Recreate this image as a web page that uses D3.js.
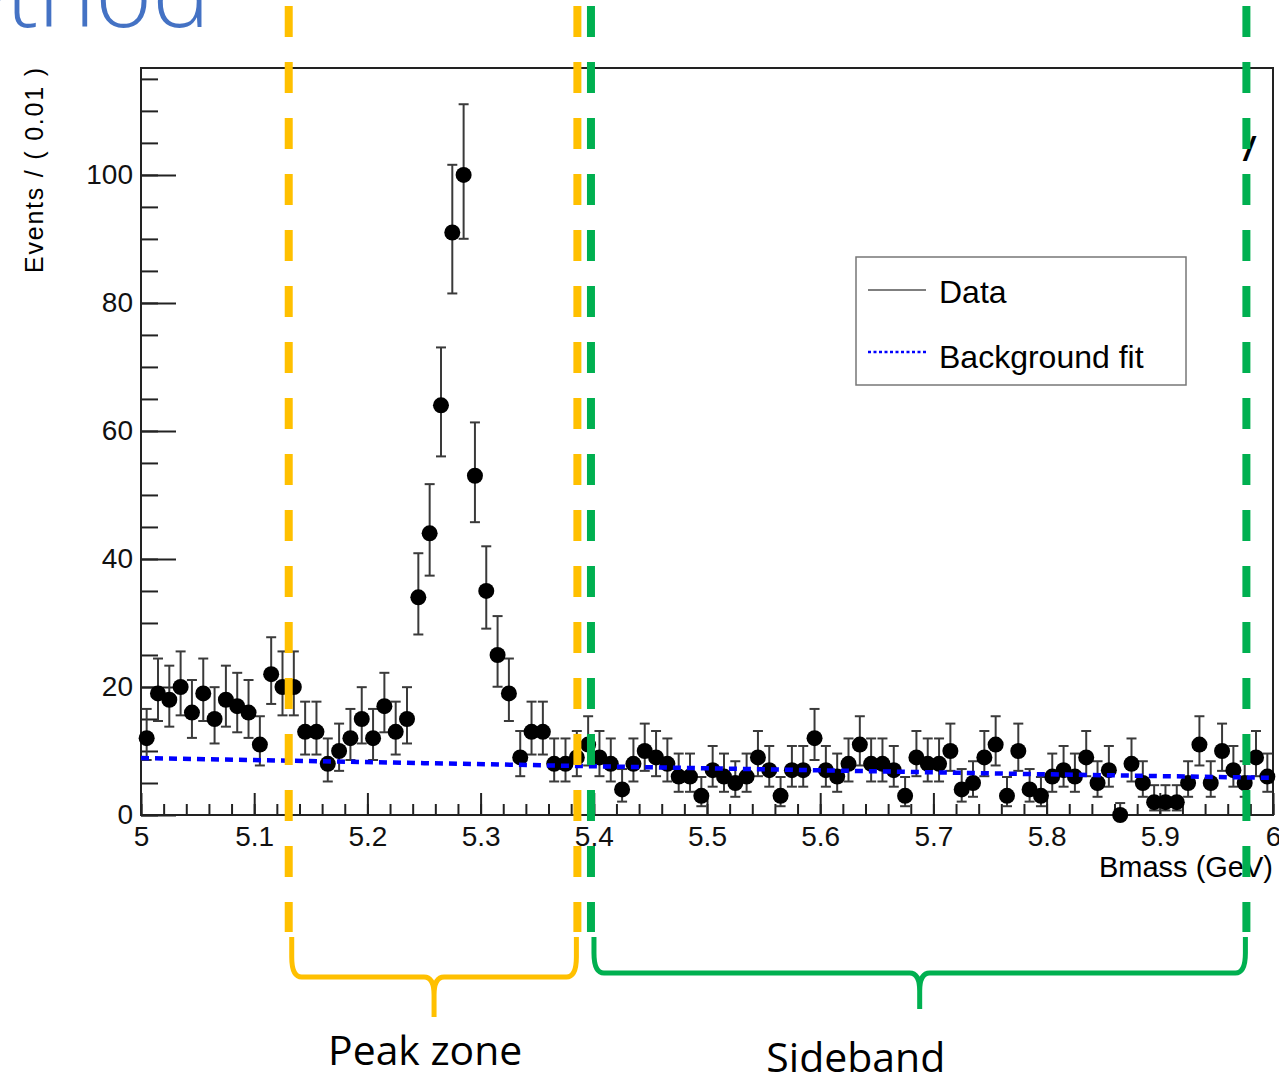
<!DOCTYPE html>
<html>
<head>
<meta charset="utf-8">
<script src="https://cdn.jsdelivr.net/npm/d3@7"></script>
<style>
  body { margin: 0; background: #fff; }
  svg { display: block; }
</style>
</head>
<body>
<div id="chart"></div>
<script>
////////////////////////////////////////////////////////////////////////
// Data: B mass histogram, 100 bins of 0.01 GeV

let binStart = 5.0;
let binWidth = 0.01;
let counts = [
  12, 19, 18, 20, 16, 19, 15, 18, 17, 16,
  11, 22, 20, 20, 13, 13,  8, 10, 12, 15,
  12, 17, 13, 15, 34, 44, 64, 91, 100, 53,
  35, 25, 19,  9, 13, 13,  8,  8,  9, 11,
   9,  8,  4,  8, 10,  9,  8,  6,  6,  3,
   7,  6,  5,  6,  9,  7,  3,  7,  7, 12,
   7,  6,  8, 11,  8,  8,  7,  3,  9,  8,
   8, 10,  4,  5,  9, 11,  3, 10,  4,  3,
   6,  7,  6,  9,  5,  7,  0,  8,  5,  2,
   2,  2,  5, 11,  5, 10,  7,  5,  9,  6
];

// background fit curve, sampled at a few masses
let bkgMass  = [5.0, 5.25, 5.5, 5.75, 6.0];
let bkgValue = [8.9, 8.1, 7.3, 6.5, 5.8];

// axis ticks
let xMajorTicks = [5.0, 5.1, 5.2, 5.3, 5.4, 5.5, 5.6, 5.7, 5.8, 5.9, 6.0];
let xTickLabels = ["5", "5.1", "5.2", "5.3", "5.4", "5.5", "5.6", "5.7", "5.8", "5.9", "6"];
let yMajorTicks = [0, 20, 40, 60, 80, 100];

// annotated mass windows (GeV) and where their captions sit
let peakZone = [5.1305, 5.3855];
let sideband = [5.3975, 5.9765];
let zoneLabels = ["Peak zone", "Sideband"];
let zoneLabelMass = [5.251, 5.6315];
let legendLabels = ["Data", "Background fit"];

////////////////////////////////////////////////////////////////////////
// Setup

let width = 1279;
let height = 1075;
let plotLeft = 141, plotRight = 1273, plotTop = 68, plotBottom = 815;

let svg = d3.select("#chart")
  .append("svg")
  .attr("width", width).attr("height", height);

let xScale = d3.scaleLinear().domain([5, 6]).range([plotLeft, plotRight]);
let yScale = d3.scaleLinear().domain([0, 116.7]).range([plotBottom, plotTop]);

let rootFont = "'Liberation Sans', Arial, Helvetica, sans-serif";
let slideFont = "'Open Sans', 'Noto Sans', sans-serif";

// title fragment from the slide
svg.append("text")
  .attr("x", 210).attr("y", 27)
  .attr("text-anchor", "end")
  .attr("font-family", slideFont)
  .attr("font-weight", 300)
  .attr("font-size", 97)
  .attr("fill", "#4472C4")
  .text("Method");

////////////////////////////////////////////////////////////////////////
// Axes (ROOT style, ticks inside the frame)

let yMinor = d3.range(0, 116, 5);
svg.append("g")
  .attr("transform", "translate(" + plotLeft + ",0)")
  .call(d3.axisLeft(yScale).tickValues(yMinor).tickSize(-17).tickFormat(""))
  .call(g => g.select(".domain").remove());

svg.append("g")
  .attr("transform", "translate(" + plotLeft + ",0)")
  .call(d3.axisLeft(yScale).tickValues(yMajorTicks).tickSize(-35).tickPadding(8))
  .call(g => g.select(".domain").remove())
  .call(g => g.selectAll("text")
    .attr("font-family", rootFont).attr("font-size", 28).attr("fill", "#111"));

let xMinor = d3.range(0, 51).map(i => 5 + i * 0.02);
svg.append("g")
  .attr("transform", "translate(0," + plotBottom + ")")
  .call(d3.axisBottom(xScale).tickValues(xMinor).tickSize(-11).tickFormat(""))
  .call(g => g.select(".domain").remove());

svg.append("g")
  .attr("transform", "translate(0," + plotBottom + ")")
  .call(d3.axisBottom(xScale).tickValues(xMajorTicks).tickSize(-22).tickPadding(11)
    .tickFormat((d, i) => xTickLabels[i]))
  .call(g => g.select(".domain").remove())
  .call(g => g.selectAll("text")
    .attr("font-family", rootFont).attr("font-size", 28).attr("fill", "#111"));

svg.selectAll(".tick line").attr("stroke", "#222").attr("stroke-width", 2);

// frame
svg.append("rect")
  .attr("x", plotLeft).attr("y", plotTop)
  .attr("width", plotRight - plotLeft).attr("height", plotBottom - plotTop)
  .attr("fill", "none").attr("stroke", "#222").attr("stroke-width", 2);

// axis titles
svg.append("text")
  .attr("transform", "translate(43," + plotTop + ") rotate(-90)")
  .attr("text-anchor", "end")
  .attr("font-family", rootFont).attr("font-size", 25)
  .attr("textLength", 205).attr("lengthAdjust", "spacing")
  .text("Events / ( 0.01 )");

svg.append("text")
  .attr("x", plotRight).attr("y", 877)
  .attr("text-anchor", "end")
  .attr("font-family", rootFont).attr("font-size", 29)
  .text("Bmass (GeV)");

// leftover glyph of a label hidden behind the slide
svg.append("text")
  .attr("x", 1244).attr("y", 160)
  .attr("font-family", rootFont).attr("font-size", 34)
  .attr("font-style", "italic").attr("font-weight", "bold")
  .text("/");

////////////////////////////////////////////////////////////////////////
// Data points with Poisson error bars

let bins = counts.map((n, i) => ({ x: binStart + (i + 0.5) * binWidth, n: n }));

function poissonLow(n) {
  if (n === 0) return 0;
  let a = 1 - 1 / (9 * n) - 1 / (3 * Math.sqrt(n));
  return n * a * a * a;
}
function poissonHigh(n) {
  return n + 1 + Math.sqrt(n + 0.75);
}

let dataG = svg.append("g");
let barColor = "#3a3a3a";
let markerR = 8;

bins.forEach(function(d) {
  let cx = xScale(d.x);
  let cy = yScale(d.n);
  let yLo = yScale(poissonLow(d.n));
  let yHi = yScale(poissonHigh(d.n));
  dataG.append("line")
    .attr("x1", cx).attr("x2", cx).attr("y1", yLo).attr("y2", yHi)
    .attr("stroke", barColor).attr("stroke-width", 2);
  if (cy - yHi > markerR) {
    dataG.append("line")
      .attr("x1", cx - 5).attr("x2", cx + 5).attr("y1", yHi).attr("y2", yHi)
      .attr("stroke", barColor).attr("stroke-width", 2);
  }
  if (yLo - cy > markerR) {
    dataG.append("line")
      .attr("x1", cx - 5).attr("x2", cx + 5).attr("y1", yLo).attr("y2", yLo)
      .attr("stroke", barColor).attr("stroke-width", 2);
  }
});

dataG.selectAll("circle")
  .data(bins)
  .enter()
  .append("circle")
  .attr("cx", d => xScale(d.x))
  .attr("cy", d => yScale(d.n))
  .attr("r", markerR)
  .attr("fill", "#000");

// background fit
let bkg = bkgMass.map((m, i) => [m, bkgValue[i]]);
svg.append("path")
  .datum(bkg)
  .attr("d", d3.line().x(d => xScale(d[0])).y(d => yScale(d[1])))
  .attr("fill", "none")
  .attr("stroke", "#0000ff")
  .attr("stroke-width", 4.5)
  .attr("stroke-dasharray", "8,6");

////////////////////////////////////////////////////////////////////////
// Legend

let legend = svg.append("g");
legend.append("rect")
  .attr("x", 856).attr("y", 257).attr("width", 330).attr("height", 128)
  .attr("fill", "#fff").attr("stroke", "#777").attr("stroke-width", 1.5);
legend.append("line")
  .attr("x1", 868).attr("x2", 926).attr("y1", 290).attr("y2", 290)
  .attr("stroke", "#555").attr("stroke-width", 1.3);
legend.append("line")
  .attr("x1", 868).attr("x2", 926).attr("y1", 352).attr("y2", 352)
  .attr("stroke", "#0000ff").attr("stroke-width", 2.5)
  .attr("stroke-dasharray", "3,2.5");
legend.selectAll("text.leg")
  .data(legendLabels)
  .enter()
  .append("text")
  .attr("class", "leg")
  .attr("x", 939)
  .attr("y", (d, i) => 303 + i * 65)
  .attr("font-family", rootFont).attr("font-size", 32)
  .text(d => d);

////////////////////////////////////////////////////////////////////////
// Zone markers: dashed verticals and curly brackets

let orange = "#FFC000";
let green = "#00B050";

function zoneLines(range, color) {
  range.forEach(function(m) {
    svg.append("line")
      .attr("x1", xScale(m)).attr("x2", xScale(m))
      .attr("y1", 6).attr("y2", 932)
      .attr("stroke", color).attr("stroke-width", 8)
      .attr("stroke-dasharray", "31,25");
  });
}

function bracket(range, color, yh, tip, label, labelMass, labelY, labelLen) {
  let xa = xScale(range[0]) + 3, xb = xScale(range[1]) - 1;
  let xm = (xa + xb) / 2;
  let y0 = 937, r = 10;
  let p = d3.path();
  p.moveTo(xa, y0);
  p.lineTo(xa, yh - r * 2);
  p.quadraticCurveTo(xa, yh, xa + r, yh);
  p.lineTo(xm - r, yh);
  p.quadraticCurveTo(xm, yh, xm, yh + r * 1.8);
  p.lineTo(xm, tip);
  p.moveTo(xm, yh + r * 1.8);
  p.quadraticCurveTo(xm, yh, xm + r, yh);
  p.lineTo(xb - r, yh);
  p.quadraticCurveTo(xb, yh, xb, yh - r * 2);
  p.lineTo(xb, y0);
  svg.append("path")
    .attr("d", p.toString())
    .attr("fill", "none").attr("stroke", color).attr("stroke-width", 5);
  svg.append("text")
    .attr("x", xScale(labelMass)).attr("y", labelY)
    .attr("text-anchor", "middle")
    .attr("font-family", slideFont).attr("font-size", 40)
    .attr("textLength", labelLen).attr("lengthAdjust", "spacingAndGlyphs")
    .text(label);
}

zoneLines(peakZone, orange);
zoneLines(sideband, green);
bracket(peakZone, orange, 977, 1017, zoneLabels[0], zoneLabelMass[0], 1065, 194);
bracket(sideband, green, 973, 1009, zoneLabels[1], zoneLabelMass[1], 1072, 179);
</script>
</body>
</html>
